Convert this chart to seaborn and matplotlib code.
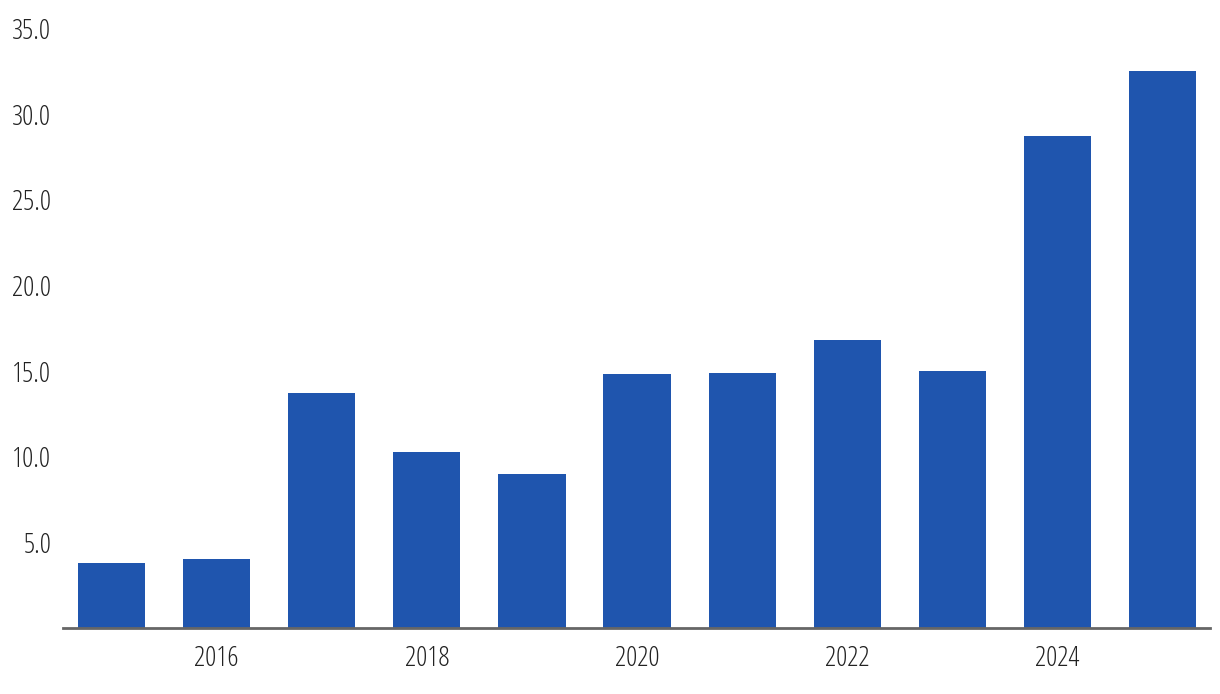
import matplotlib
matplotlib.use("Agg")
import matplotlib.pyplot as plt
import seaborn as sns
import pandas as pd

years = ["2015", "2016", "2017", "2018", "2019", "2020", "2021", "2022", "2023", "2024", "2025"]
values = [3.8, 4.0, 13.7, 10.3, 9.0, 14.8, 14.9, 16.8, 15.0, 28.7, 32.5]
shown_ticks = ["2016", "2018", "2020", "2022", "2024"]
y_ticks = [5, 10, 15, 20, 25, 30, 35]

sns.set_theme(style="white")
plt.rcParams['font.family'] = ['Open Sans', 'DejaVu Sans']
plt.rcParams['font.stretch'] = 'condensed'
plt.rcParams['font.weight'] = 'medium'

df = pd.DataFrame({"year": years, "value": values})

fig = plt.figure(figsize=(12.2, 6.94), dpi=100)
ax = fig.add_axes([63/1220, 1-628/694, (1210-63)/1220, (628-28.5)/694])

sns.barplot(data=df, x="year", y="value", color="#1f55ae", saturation=1,
            width=0.64, ax=ax, order=years, linewidth=0)

ax.set_xlim(-0.46, 10.45)
ax.set_ylim(0, 35)
ax.set_yticks(y_ticks)
ax.set_yticklabels([f"{v:.1f}" for v in y_ticks])
pos = [years.index(t) for t in shown_ticks]
ax.set_xticks(pos)
ax.set_xticklabels(shown_ticks)
ax.set_xlabel("")
ax.set_ylabel("")

for s in ["top", "right", "left"]:
    ax.spines[s].set_visible(False)
ax.spines["bottom"].set_color("#666666")
ax.spines["bottom"].set_linewidth(2)

ax.tick_params(axis="y", length=0, pad=8.5, labelsize=20, labelcolor="#222222")
ax.tick_params(axis="x", length=0, pad=12, labelsize=20, labelcolor="#222222")
ax.grid(False)

fig.savefig("out.png", dpi=100)
